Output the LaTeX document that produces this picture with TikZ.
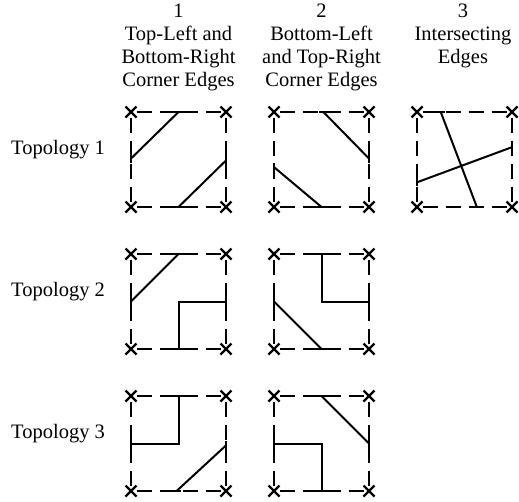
\documentclass[tikz,border=0pt]{standalone}
\usepackage{fontspec}
\setmainfont{Liberation Serif}
\usetikzlibrary{calc}
\tikzset{
  border/.style={line width=2.2pt, dash pattern=on 15pt off 8pt, dash phase=17.5pt},
  edge/.style={line width=2pt},
  cross/.style={line width=2.2pt},
  lbl/.style={font=\fontsize{20.5}{22.5}\selectfont, inner sep=0pt},
}
% square: name, x, y of top-left corner
\newcommand\mksq[3]{%
  \coordinate (#1-tl) at (#2,#3);
  \coordinate (#1-tr) at (#2+95,#3);
  \coordinate (#1-bl) at (#2,#3+95);
  \coordinate (#1-br) at (#2+95,#3+95);
  \coordinate (#1-c) at (#2+47.5,#3+47.5);
  \draw[border] (#1-tl) -- (#1-tr);
  \draw[border] (#1-bl) -- (#1-br);
  \draw[border] (#1-tl) -- (#1-bl);
  \draw[border] (#1-tr) -- (#1-br);
  \foreach \cc in {tl,tr,bl,br}{
    \draw[cross] ($(#1-\cc)+(-5.5,-5.5)$) -- ($(#1-\cc)+(5.5,5.5)$)
                 ($(#1-\cc)+(-5.5,5.5)$) -- ($(#1-\cc)+(5.5,-5.5)$);
  }
}
% edge points: name, side start, side end, fraction
\newcommand\ep[4]{\coordinate (#1) at ($(#2)!#4!(#3)$);}
\newcommand\htick[1]{\draw[edge] ($(#1)+(-4,0)$) -- ($(#1)+(4,0)$);}
\newcommand\vtick[1]{\draw[edge] ($(#1)+(0,-4)$) -- ($(#1)+(0,4)$);}
\begin{document}
\begin{tikzpicture}[x=1pt,y=-1pt]
\useasboundingbox (0,0) rectangle (519,501);

% column headings
\node[lbl, anchor=base] (h1a) at (178.5,17) {1};
\node[lbl, anchor=base] (h1b) at (178.5,40) {Top-Left and};
\node[lbl, anchor=base] (h1c) at (178.5,63) {Bottom-Right};
\node[lbl, anchor=base] (h1d) at (178.5,86) {Corner Edges};
\node[lbl, anchor=base] (h2a) at (321.5,17) {2};
\node[lbl, anchor=base] (h2b) at (321.5,40) {Bottom-Left};
\node[lbl, anchor=base] (h2c) at (321.5,63) {and Top-Right};
\node[lbl, anchor=base] (h2d) at (321.5,86) {Corner Edges};
\node[lbl, anchor=base] (h3a) at (463,17) {3};
\node[lbl, anchor=base] (h3b) at (463,40) {Intersecting};
\node[lbl, anchor=base] (h3c) at (463,63) {Edges};

% row labels
\node[lbl, anchor=base west] (t1) at (11,154) {Topology 1};
\node[lbl, anchor=base west] (t2) at (11,296) {Topology 2};
\node[lbl, anchor=base west] (t3) at (11,438) {Topology 3};

% squares
\mksq{s11}{131}{112}
\mksq{s12}{274}{112}
\mksq{s13}{417}{112}
\mksq{s21}{131}{254}
\mksq{s22}{274}{254}
\mksq{s31}{131}{396}
\mksq{s32}{274}{396}

% s11
\ep{s11t}{s11-tl}{s11-tr}{0.5} \ep{s11l}{s11-tl}{s11-bl}{0.49}
\ep{s11b}{s11-bl}{s11-br}{0.5} \ep{s11r}{s11-tr}{s11-br}{0.51}
\draw[edge] (s11t) -- (s11l); \draw[edge] (s11b) -- (s11r);
\htick{s11t} \vtick{s11l} \htick{s11b} \vtick{s11r}

% s12
\ep{s12t}{s12-tl}{s12-tr}{0.52} \ep{s12r}{s12-tr}{s12-br}{0.49}
\ep{s12l}{s12-tl}{s12-bl}{0.58} \ep{s12b}{s12-bl}{s12-br}{0.5}
\draw[edge] (s12t) -- (s12r); \draw[edge] (s12l) -- (s12b);
\htick{s12t} \vtick{s12r} \vtick{s12l} \htick{s12b}

% s13
\ep{s13t}{s13-tl}{s13-tr}{0.25} \ep{s13b}{s13-bl}{s13-br}{0.63}
\ep{s13l}{s13-tl}{s13-bl}{0.74} \ep{s13r}{s13-tr}{s13-br}{0.37}
\draw[edge] (s13t) -- (s13b); \draw[edge] (s13l) -- (s13r);
\htick{s13t} \htick{s13b} \vtick{s13l} \vtick{s13r}

% s21
\ep{s21t}{s21-tl}{s21-tr}{0.5} \ep{s21l}{s21-tl}{s21-bl}{0.5}
\ep{s21r}{s21-tr}{s21-br}{0.5} \ep{s21b}{s21-bl}{s21-br}{0.5}
\draw[edge] (s21t) -- (s21l);
\draw[edge] (s21r) -- (s21-c) -- (s21b);
\htick{s21t} \vtick{s21l} \vtick{s21r} \htick{s21b}

% s22
\ep{s22t}{s22-tl}{s22-tr}{0.5} \ep{s22l}{s22-tl}{s22-bl}{0.5}
\ep{s22r}{s22-tr}{s22-br}{0.5} \ep{s22b}{s22-bl}{s22-br}{0.5}
\draw[edge] (s22t) -- (s22-c) -- (s22r);
\draw[edge] (s22l) -- (s22b);
\htick{s22t} \vtick{s22l} \vtick{s22r} \htick{s22b}

% s31
\ep{s31t}{s31-tl}{s31-tr}{0.5} \ep{s31l}{s31-tl}{s31-bl}{0.5}
\ep{s31r}{s31-tr}{s31-br}{0.52} \ep{s31b}{s31-bl}{s31-br}{0.48}
\draw[edge] (s31t) -- (s31-c) -- (s31l);
\draw[edge] (s31b) -- (s31r);
\htick{s31t} \vtick{s31l} \vtick{s31r} \htick{s31b}

% s32
\ep{s32t}{s32-tl}{s32-tr}{0.5} \ep{s32l}{s32-tl}{s32-bl}{0.5}
\ep{s32r}{s32-tr}{s32-br}{0.5} \ep{s32b}{s32-bl}{s32-br}{0.5}
\draw[edge] (s32t) -- (s32r);
\draw[edge] (s32l) -- (s32-c) -- (s32b);
\htick{s32t} \vtick{s32l} \vtick{s32r} \htick{s32b}
\end{tikzpicture}
\end{document}
